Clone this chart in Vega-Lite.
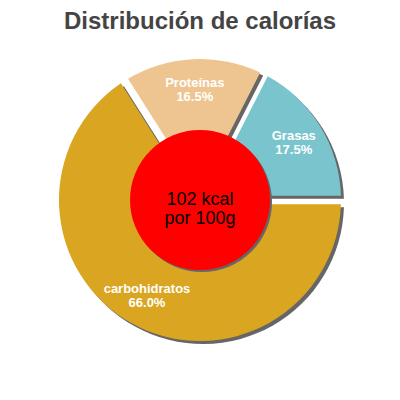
{
  "$schema": "https://vega.github.io/schema/vega-lite/v6.json",
  "title": {
    "text": "Distribución de calorías",
    "font": "Liberation Sans",
    "fontSize": 24,
    "fontWeight": "bold",
    "color": "#444444",
    "anchor": "middle",
    "offset": 0,
    "dy": 4
  },
  "autosize": "none",
  "padding": {"left": 0, "right": 0, "top": 30, "bottom": 0},
  "width": 400,
  "height": 340,
  "background": "white",
  "datasets": {
    "calorias": [
      {"categoria": "carbohidratos", "parte": 0.66, "orden": 1},
      {"categoria": "Proteínas", "parte": 0.165, "orden": 2},
      {"categoria": "Grasas", "parte": 0.175, "orden": 3}
    ],
    "centro": [
      {"texto": "102 kcal\npor 100g"}
    ]
  },
  "layer": [
    {
      "data": {"name": "calorias"},
      "mark": {"type": "arc", "outerRadius": 141, "innerRadius": 60, "padAngle": 0.055, "xOffset": 3, "yOffset": 3, "color": "#666666"},
      "encoding": {
        "theta": {"field": "parte", "type": "quantitative", "stack": true, "scale": {"range": [1.5708, 7.854]}},
        "order": {"field": "orden", "type": "quantitative"}
      }
    },
    {
      "data": {"name": "calorias"},
      "mark": {"type": "arc", "outerRadius": 141, "innerRadius": 60, "padAngle": 0.055},
      "encoding": {
        "theta": {"field": "parte", "type": "quantitative", "stack": true, "scale": {"range": [1.5708, 7.854]}},
        "order": {"field": "orden", "type": "quantitative"},
        "color": {
          "field": "categoria",
          "type": "nominal",
          "legend": null,
          "scale": {"domain": ["carbohidratos", "Proteínas", "Grasas"], "range": ["#DAA520", "#EEC591", "#7AC5CD"]}
        }
      }
    },
    {
      "data": {"name": "calorias"},
      "mark": {"type": "text", "radius": 110, "dy": -7, "font": "Liberation Sans", "fontSize": 13, "fontWeight": "bold", "color": "white", "align": "center", "baseline": "middle"},
      "encoding": {
        "theta": {"field": "parte", "type": "quantitative", "stack": true, "scale": {"range": [1.5708, 7.854]}},
        "order": {"field": "orden", "type": "quantitative"},
        "text": {"field": "categoria"}
      }
    },
    {
      "data": {"name": "calorias"},
      "mark": {"type": "text", "radius": 110, "dy": 7, "font": "Liberation Sans", "fontSize": 13, "fontWeight": "bold", "color": "white", "align": "center", "baseline": "middle"},
      "encoding": {
        "theta": {"field": "parte", "type": "quantitative", "stack": true, "scale": {"range": [1.5708, 7.854]}},
        "order": {"field": "orden", "type": "quantitative"},
        "text": {"field": "parte", "type": "quantitative", "format": ".1%"}
      }
    },
    {
      "data": {"name": "centro"},
      "mark": {"type": "arc", "outerRadius": 70, "xOffset": 2, "yOffset": 2, "color": "#666666"},
      "encoding": {}
    },
    {
      "data": {"name": "centro"},
      "mark": {"type": "arc", "outerRadius": 70, "color": "#FF0000"},
      "encoding": {}
    },
    {
      "data": {"name": "centro"},
      "mark": {"type": "text", "lineBreak": "\n", "font": "Liberation Sans", "fontSize": 18, "lineHeight": 19, "color": "black", "align": "center", "baseline": "middle"},
      "encoding": {"text": {"field": "texto"}}
    }
  ],
  "config": {"view": {"stroke": null}}
}
